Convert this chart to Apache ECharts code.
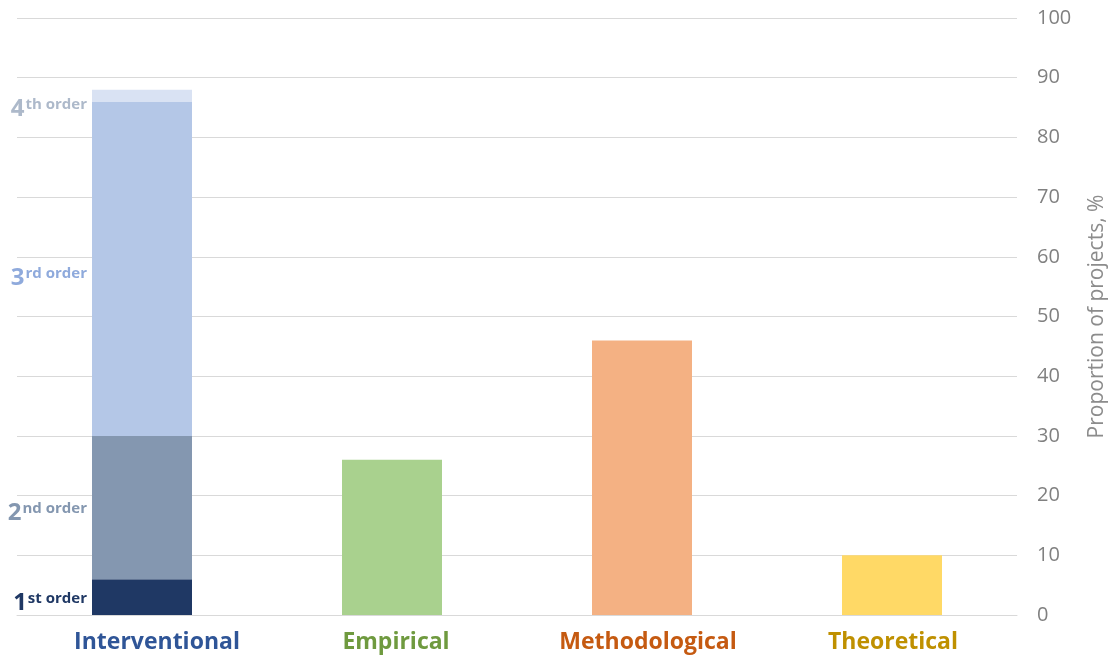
<!DOCTYPE html>
<html>
<head>
<meta charset="utf-8">
<script src="https://cdn.jsdelivr.net/npm/echarts@6/dist/echarts.min.js"></script>
<style>
  html, body { margin: 0; padding: 0; background: #fff; }
  #chart { width: 1108px; height: 659px; }
</style>
</head>
<body>
<div id="chart"></div>
<script>
// Project types along the horizontal axis
const categories = ['Interventional', 'Empirical', 'Methodological', 'Theoretical'];
const categoryColors = ['#2f5597', '#6f9a3f', '#c55a11', '#bf9000'];

// Interventional projects split by order (segment sizes, %)
const orderNumbers = ['1', '2', '3', '4'];
const orderSuffixes = ['st order', 'nd order', 'rd order', 'th order'];
const orderValues = [6, 24, 56, 2];
const orderColors = ['#1f3864', '#8497b0', '#b4c7e7', '#d9e2f3'];
const orderLabelColors = ['#1f3864', '#8497b0', '#8faadc', '#adb9ca'];

// Remaining project types (%)
const otherValues = [26, 46, 10];
const otherColors = ['#a9d18e', '#f4b183', '#ffd966'];

// Y axis ticks
const yMin = 0, yMax = 100, yStep = 10;

// Small per-label nudges (vertical for order labels, horizontal for category names)
const orderLabelShift = [6, 6, 9, 14];
const categoryLabelShift = [30, 8, 12, 2];

const chart = echarts.init(document.getElementById('chart'));

const orderSeries = orderValues.map((v, i) => ({
  name: orderNumbers[i] + orderSuffixes[i],
  type: 'bar',
  stack: 'share',
  barWidth: 100,
  data: categories.map((c, j) => (j === 0 ? v : '-')),
  itemStyle: { color: orderColors[i] },
  label: {
    show: true,
    position: 'left',
    distance: 5,
    offset: [0, orderLabelShift[i]],
    formatter: '{n|' + orderNumbers[i] + '}{s|' + orderSuffixes[i] + '}',
    rich: {
      n: {
        fontFamily: 'Open Sans',
        fontWeight: 'bold',
        fontSize: 24,
        color: orderLabelColors[i],
        lineHeight: 28,
        verticalAlign: 'middle'
      },
      s: {
        fontFamily: 'Open Sans',
        fontWeight: 'bold',
        fontSize: 15,
        color: orderLabelColors[i],
        lineHeight: 16,
        verticalAlign: 'top',
        padding: [2, 0, 0, 1]
      }
    }
  }
}));

const otherSeries = {
  name: 'Other',
  type: 'bar',
  stack: 'share',
  barWidth: 100,
  data: categories.map((c, j) =>
    j === 0 ? '-' : { value: otherValues[j - 1], itemStyle: { color: otherColors[j - 1] } }
  )
};

chart.setOption({
  animation: false,
  grid: { left: 17, right: 91, top: 18, bottom: 44, containLabel: false, outerBoundsMode: 'none' },
  xAxis: {
    type: 'category',
    data: categories.map((c, i) => ({
      value: c,
      textStyle: { color: categoryColors[i], padding: [0, 0, 0, categoryLabelShift[i]] }
    })),
    axisTick: { show: false },
    axisLine: { lineStyle: { color: '#d9d9d9' } },
    axisLabel: {
      margin: 16,
      fontFamily: 'Open Sans',
      fontWeight: 'bold',
      fontSize: 23
    }
  },
  yAxis: {
    type: 'value',
    position: 'right',
    min: yMin,
    max: yMax,
    interval: yStep,
    name: 'Proportion of projects, %',
    nameLocation: 'middle',
    nameRotate: 90,
    nameGap: 70,
    nameTextStyle: { fontFamily: 'Open Sans', fontSize: 21, color: '#8c8c8c' },
    axisLine: { show: false },
    axisTick: { show: false },
    axisLabel: {
      margin: 20,
      fontFamily: 'Open Sans',
      fontSize: 20,
      color: '#808080'
    },
    splitLine: { lineStyle: { color: '#d9d9d9' } }
  },
  series: [...orderSeries, otherSeries]
});
</script>
</body>
</html>
